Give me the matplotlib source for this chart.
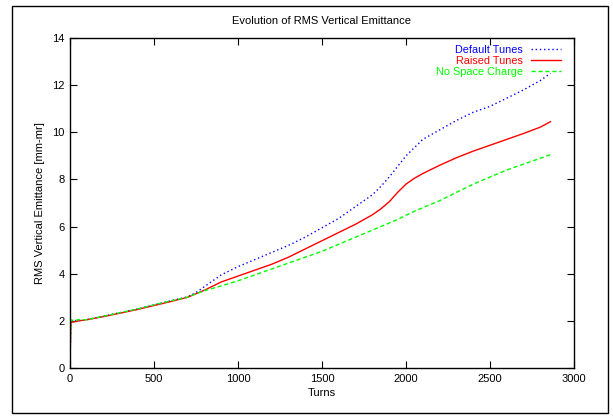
import matplotlib
matplotlib.use("Agg")
import matplotlib.pyplot as plt
from matplotlib.patches import Rectangle

plt.rcParams['font.family'] = ['Liberation Sans', 'DejaVu Sans']

turns = [0, 5, 10, 20, 50, 100, 200, 300, 400, 500, 600, 700, 750, 800, 900, 1000, 1100, 1200, 1300, 1400,
         1500, 1600, 1700, 1800, 1850, 1900, 1950, 2000, 2050, 2100, 2200, 2300, 2400, 2500, 2600, 2700,
         2800, 2860]
default_tunes = [0.2, 1.9, 2.0, 2.0, 2.0, 2.05, 2.2, 2.35, 2.5, 2.68, 2.85, 3.02, 3.2, 3.45, 3.95, 4.3, 4.6,
                 4.9, 5.2, 5.55, 5.95, 6.35, 6.85, 7.35, 7.7, 8.1, 8.55, 9.0, 9.35, 9.7, 10.1, 10.5, 10.85,
                 11.1, 11.45, 11.8, 12.2, 12.5]
raised_tunes = [0.2, 1.9, 1.95, 1.95, 2.0, 2.05, 2.18, 2.33, 2.48, 2.65, 2.82, 3.0, 3.15, 3.3, 3.65, 3.9,
                4.15, 4.4, 4.7, 5.05, 5.4, 5.75, 6.1, 6.5, 6.75, 7.05, 7.45, 7.8, 8.05, 8.25, 8.6, 8.92,
                9.2, 9.45, 9.7, 9.95, 10.22, 10.45]
no_space_charge = [0.2, 1.95, 2.05, 2.0, 2.05, 2.05, 2.2, 2.35, 2.5, 2.68, 2.85, 3.0, 3.15, 3.28, 3.48, 3.7,
                   3.95, 4.2, 4.45, 4.7, 4.95, 5.25, 5.55, 5.85, 6.0, 6.15, 6.3, 6.48, 6.65, 6.8, 7.1,
                   7.45, 7.8, 8.1, 8.4, 8.65, 8.9, 9.05]

fig = plt.figure(figsize=(6.13, 4.19), dpi=100)
ax = fig.add_axes([70/613, 51/419, 504/613, 330/419])

ax.plot(turns, default_tunes, color='#0000ff', linestyle=(0, (1, 2)), linewidth=1.0, label='Default Tunes')
ax.plot(turns, raised_tunes, color='#ff0000', linestyle='-', linewidth=1.0, label='Raised Tunes')
ax.plot(turns, no_space_charge, color='#00ff00', linestyle=(0, (3, 2)), linewidth=1.0, label='No Space Charge')

ax.set_xlim(0, 3000)
ax.set_ylim(0, 14)
ax.set_xticks(range(0, 3001, 500))
ax.set_yticks(range(0, 15, 2))
ax.tick_params(direction='in', top=True, right=True, length=5, width=0.8, labelsize=8, pad=4)
for s in ax.spines.values():
    s.set_linewidth(1.0)

ax.set_title('Evolution of RMS Vertical Emittance', fontsize=8, pad=10)
ax.set_xlabel('Turns', fontsize=8, labelpad=3)
ax.set_ylabel('RMS Vertical Emittance [mm-mr]', fontsize=8, labelpad=5)

leg = ax.legend(loc='upper right', frameon=False, markerfirst=False, labelcolor='linecolor',
                fontsize=7.8, handlelength=2.85, handletextpad=0.7, borderaxespad=0.3,
                borderpad=0.4, labelspacing=0.1)
leg.set_bbox_to_anchor((1.0 - 5/504, 1.0 + 1/330), transform=ax.transAxes)
for t in leg.get_texts():
    t.set_ha('right')

fig.patches.append(Rectangle((12/613, 6/419), 596/613, 407/419, transform=fig.transFigure,
                             fill=False, edgecolor='black', linewidth=1.0))

fig.savefig('out.png', dpi=100)
